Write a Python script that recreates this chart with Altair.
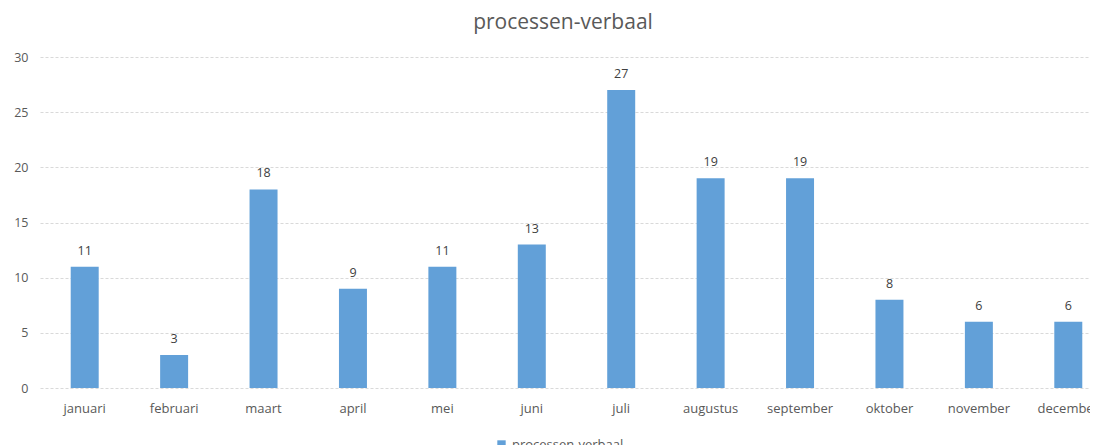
import altair as alt
import pandas as pd

months = ["januari", "februari", "maart", "april", "mei", "juni", "juli",
          "augustus", "september", "oktober", "november", "december"]
values = [11, 3, 18, 9, 11, 13, 27, 19, 19, 8, 6, 6]
series = "processen-verbaal"

df = pd.DataFrame({"maand": months, "aantal": values, "reeks": [series] * len(months)})

FONT = "Open Sans"
GRAY = "#595959"
BAR = "#62A0D8"

x = alt.X("maand:N", sort=months, title=None,
          scale=alt.Scale(range=[0, 1073], paddingInner=0.687, paddingOuter=0.3435),
          axis=alt.Axis(labelAngle=0, domain=False, ticks=False, labelPadding=14,
                        labelFont=FONT, labelFontSize=13, labelColor=GRAY))
y = alt.Y("aantal:Q", title=None,
          scale=alt.Scale(domain=[0, 30], nice=False),
          axis=alt.Axis(values=[0, 5, 10, 15, 20, 25, 30], domain=False, ticks=False,
                        grid=True, gridColor="#d9d9d9", gridDash=[3, 2],
                        labelFont=FONT, labelFontSize=12.5, labelColor=GRAY, labelPadding=12))

bars = alt.Chart(df).mark_bar(color=BAR, clip=False).encode(
    x=x, y=y,
    color=alt.Color("reeks:N", scale=alt.Scale(range=[BAR]),
                    legend=alt.Legend(title=None, orient="none", legendX=455, legendY=381,
                                      symbolType="square", symbolSize=70,
                                      labelFont=FONT, labelFontSize=13, labelColor=GRAY,
                                      symbolStrokeWidth=0))
)
labels = alt.Chart(df).mark_text(dy=-9, font=FONT, fontSize=12.5, color="#404040",
                                  baseline="bottom").encode(
    x=alt.X("maand:N", sort=months), y="aantal:Q", text="aantal:Q")

chart = (bars + labels).properties(
    width=1050, height=331,
    title=alt.TitleParams(series, font=FONT, fontSize=21, fontWeight="normal",
                          color=GRAY, anchor="middle", dx=-2, offset=18),
    padding={"left": 32, "top": 49, "right": 0, "bottom": 60},
    autosize=alt.AutoSizeParams(type="none"),
).configure_view(stroke=None)

chart.save("out.html", embed_options={"renderer": "svg", "actions": False})
